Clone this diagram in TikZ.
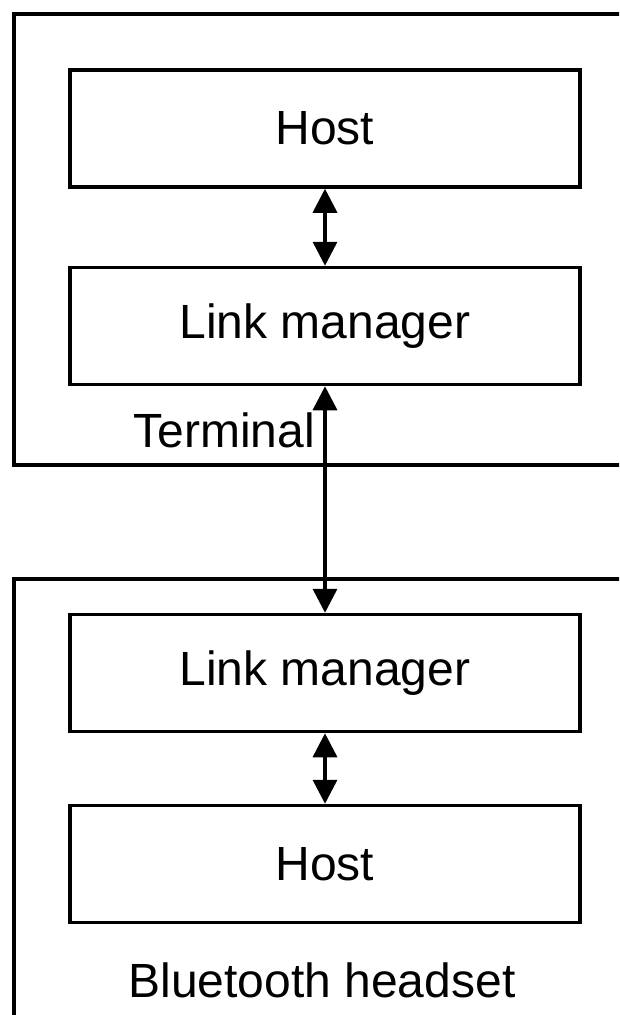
\documentclass[tikz,border=0pt]{standalone}
\usepackage{fontspec}
\setmainfont{Liberation Sans}
\usetikzlibrary{arrows.meta}
\begin{document}
\begin{tikzpicture}[x=1pt,y=-1pt,
  inner/.style={draw=black,line width=3.5pt,minimum width=510pt,minimum height=117pt,inner sep=0pt,font=\fontsize{48}{56}\selectfont},
  outer/.style={draw=black,line width=4pt,inner sep=0pt,anchor=north west},
  biarrow/.style={line width=3.5pt,{Triangle[width=24pt,length=24pt]}-{Triangle[width=24pt,length=24pt]}},
  lbl/.style={font=\fontsize{48}{56}\selectfont,inner sep=0pt}]
\useasboundingbox (0,0) rectangle (619,1015);
\clip (0,0) rectangle (619,1015);
\fill[white] (0,0) rectangle (619,1015);
\node[outer,minimum width=650pt,minimum height=451pt] (term) at (12,12) {};
\node[outer,minimum width=650pt,minimum height=500pt] (head) at (12,577) {};
\node[inner] (host1) at (325,128.5) {Host};
\node[inner] (lm1) at (325,326) {Link manager};
\node[inner] (lm2) at (325,673) {Link manager};
\node[inner] (host2) at (325,864) {Host};
\draw[biarrow] (host1) -- (lm1);
\draw[biarrow] (lm1) -- (lm2);
\draw[biarrow] (lm2) -- (host2);
\node[lbl,anchor=base east] (tl) at (315,447) {Terminal};
\node[lbl,anchor=base] (bl) at (322,997) {Bluetooth headset};
\end{tikzpicture}
\end{document}
